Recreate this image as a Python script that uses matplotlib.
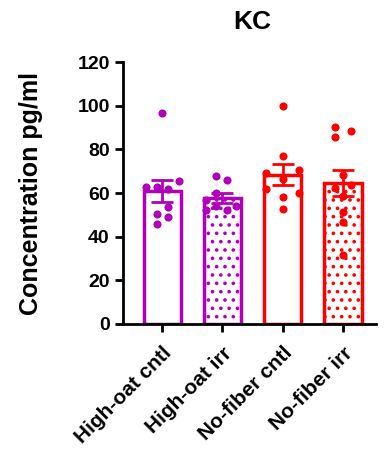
import numpy as np
import matplotlib
matplotlib.use("Agg")
import matplotlib.pyplot as plt

plt.rcParams["font.family"] = ["Liberation Sans", "DejaVu Sans"]
plt.rcParams["font.weight"] = "bold"
plt.rcParams["hatch.linewidth"] = 1.4

# data
groups = ["High-oat cntl", "High-oat irr", "No-fiber cntl", "No-fiber irr"]
colors = ["#B000B8", "#B000B8", "#FF0000", "#FF0000"]
hatches = [None, "..", None, ".."]
points_hoc = [96.6, 65.3, 62.8, 62.8, 62.0, 53.6, 50.5, 48.8, 45.9]
points_hoi = [67.6, 65.8, 60.0, 56.6, 53.9, 53.9, 52.3, 52.3]
points_nfc = [100.1, 77.1, 70.6, 69.1, 66.4, 61.8, 60.0, 58.1, 52.9]
points_nfi = [90.2, 88.3, 85.6, 68.1, 63.8, 62.2, 58.7, 51.2, 46.6, 31.4]
all_points = [points_hoc, points_hoi, points_nfc, points_nfi]

# x offsets of points (scatter spread), one per point
jitter_hoc = [0.0, 0.27, -0.27, -0.08, 0.1, 0.1, -0.08, 0.1, -0.08]
jitter_hoi = [-0.1, 0.08, -0.1, -0.27, -0.1, 0.23, 0.08, -0.27]
jitter_nfc = [0.0, 0.0, 0.27, -0.28, 0.0, -0.28, 0.27, 0.0, 0.0]
jitter_nfi = [-0.13, 0.13, -0.13, 0.0, 0.13, -0.13, 0.0, 0.0, 0.0, 0.0]
all_jitter = [jitter_hoc, jitter_hoi, jitter_nfc, jitter_nfi]

fig = plt.figure(figsize=(3.87, 4.5), dpi=100)
ax = fig.add_axes([0.318, 0.28, 0.654, 0.582])

x = np.arange(len(groups))
for i, pts in enumerate(all_points):
    pts = np.array(pts)
    mean = pts.mean()
    sem = pts.std(ddof=1) / np.sqrt(len(pts))
    ax.bar(x[i], mean, width=0.62, facecolor="white", edgecolor=colors[i],
           linewidth=2.5, hatch=hatches[i], zorder=2)
    ax.errorbar(x[i], mean, yerr=sem, color=colors[i], capsize=8,
                capthick=2, elinewidth=2, zorder=3)
    ax.scatter(x[i] + np.array(all_jitter[i]), pts, s=34, color=colors[i],
               zorder=4, linewidths=0)

ax.set_xlim(-0.65, 3.55)
ax.set_ylim(0, 120)
ax.set_yticks([0, 20, 40, 60, 80, 100, 120])
ax.set_xticks(x)
ax.set_xticklabels(groups, rotation=45, ha="right", rotation_mode="anchor",
                   fontsize=15, fontweight="bold")
ax.tick_params(axis="y", labelsize=14, width=2, length=6)
ax.tick_params(axis="x", width=2, length=6, pad=8)
for lab in ax.get_yticklabels():
    lab.set_fontweight("bold")

ax.spines["top"].set_visible(False)
ax.spines["right"].set_visible(False)
ax.spines["left"].set_linewidth(2)
ax.spines["bottom"].set_linewidth(2)

ax.set_ylabel("Concentration pg/ml", fontsize=18, fontweight="bold", labelpad=25)
ax.set_title("KC", fontsize=19, fontweight="bold", pad=24, x=0.51)

fig.savefig("out.png", dpi=100)
